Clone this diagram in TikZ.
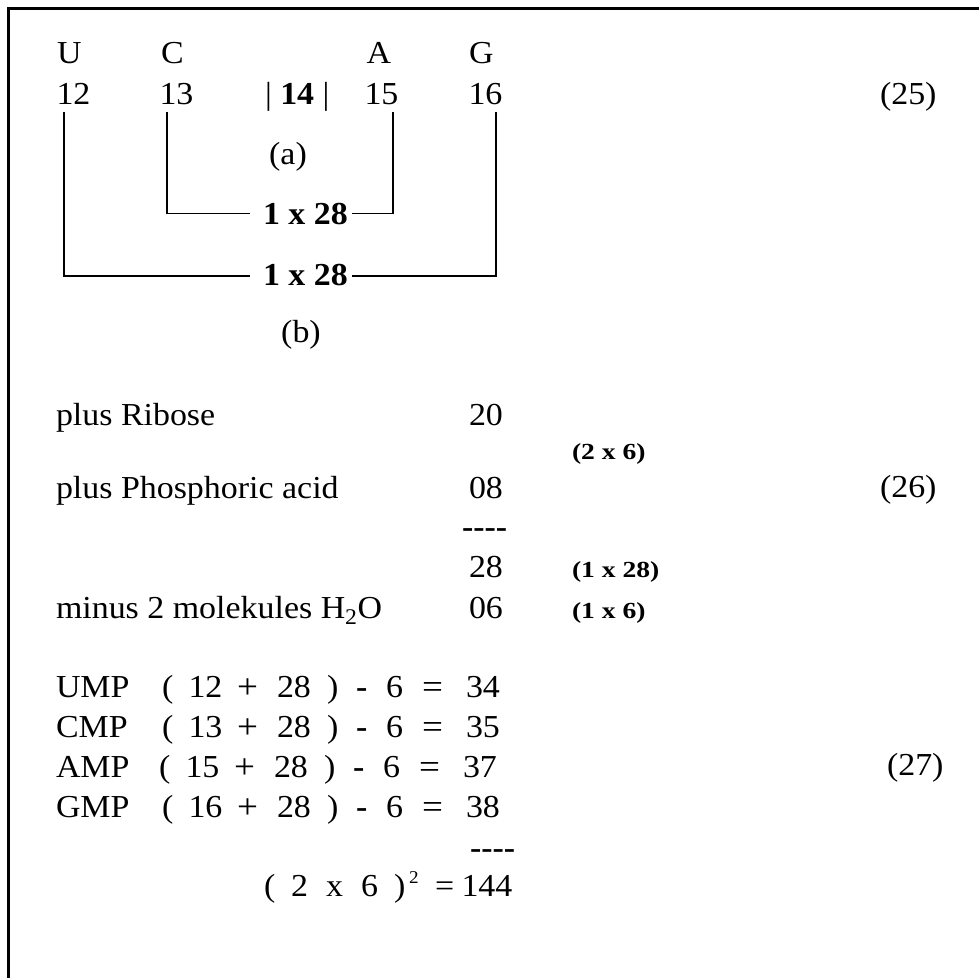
\documentclass[tikz,border=0pt]{standalone}
\usepackage{fontspec}
\setmainfont{Liberation Serif}[FakeStretch=1.06]
\newfontfamily\smbold{Liberation Serif}[FakeStretch=1.2]
\newcommand\hdashes{\textbf{-\kern0pt-\kern0pt-\kern0pt-}}
\tikzset{
  txt/.style={anchor=base west, inner sep=0pt, outer sep=0pt, font=\fontsize{32}{38}\selectfont},
  txtb/.style={txt, font=\fontsize{32}{38}\selectfont\bfseries},
  txtc/.style={txt, anchor=base},
  smb/.style={txt, font=\fontsize{23}{27}\smbold\bfseries},
  bigs/.style={txt, font=\fontsize{35}{41}\selectfont},
  sups/.style={txt, font=\fontsize{18}{21}\selectfont},
  conn/.style={line width=1.4pt},
  frame/.style={line width=3pt}
}
\newcommand\eqrow[6]{%
  \node[txt]  (#6n) at (56,#1) {#3};
  \node[txt]  (#6o) at ({162+(#2)},#1) {(};
  \node[txt]  (#6a) at ({188.5+(#2)},#1) {#4};
  \node[bigs] (#6p) at ({237+(#2)},{#1+1.5}) {+};
  \node[txt]  (#6b) at ({277+(#2)},#1) {28};
  \node[txt]  (#6c) at ({327+(#2)},#1) {)};
  \node[txtb] (#6m) at ({356+(#2)},#1) {-};
  \node[txt]  (#6s) at ({386+(#2)},#1) {6};
  \node[bigs] (#6e) at ({422+(#2)},{#1+1.5}) {=};
  \node[txt]  (#6r) at ({466+(#2)},#1) {#5};
}
\begin{document}
\begin{tikzpicture}[x=1pt,y=-1pt]
\useasboundingbox (0,0) rectangle (979,978);
\draw[frame] (8.5,978) -- (8.5,8.5) -- (979,8.5);

% (25)
\node[txt] (U) at (57,63) {U};
\node[txt] (C) at (161,63) {C};
\node[txt] (A) at (366.5,63) {A};
\node[txt] (G) at (469,63) {G};
\node[txt] (n12) at (56.5,104) {12};
\node[txt] (n13) at (159.5,104) {13};
\node[txt] (n14) at (265,104) {| \textbf{14} |};
\node[txt] (n15) at (364.5,104) {15};
\node[txt] (n16) at (468.5,104) {16};
\node[txt] (e25) at (880,104) {(25)};
\node[txtc] (la1) at (288,164) {(a)};
\node[txtb] (la) at (263,224) {1 x 28};
\node[txtb] (lb) at (263,285) {1 x 28};
\node[txtc] (lb1) at (301,342) {(b)};

\draw[conn] ([xshift=7.5pt,yshift=-8pt]n13.south west) |- ([xshift=-13pt]la.west);
\draw[conn] ([xshift=4pt]la.east) -| ([xshift=-5.5pt,yshift=-8pt]n15.south east);
\draw[conn] ([xshift=7.5pt,yshift=-8pt]n12.south west) |- ([xshift=-13pt,yshift=-1.5pt]lb.west);
\draw[conn] ([xshift=4pt,yshift=-1.5pt]lb.east) -| ([xshift=-6.5pt,yshift=-8pt]n16.south east);

% (26)
\node[txt] (rib) at (56,425) {plus Ribose};
\node[txt] (v20) at (469,425) {20};
\node[smb] (f26) at (572,459) {(2 x 6)};
\node[txt] (pho) at (56,498) {plus Phosphoric acid};
\node[txt] (v08) at (469,498) {08};
\node[txt] (e26) at (880,497) {(26)};
\node[txt] (d1) at (462,537) {\hdashes};
\node[txt] (v28) at (469,577) {28};
\node[smb] (f128) at (572,577) {(1 x 28)};
\node[txt] (h2o) at (56,618) {minus 2 molekules H\textsubscript{2}O};
\node[txt] (v06) at (469,618) {06};
\node[smb] (f16) at (572,618) {(1 x 6)};

% (27)
\eqrow{697}{0}{UMP}{12}{34}{ump}
\eqrow{737}{0}{CMP}{13}{35}{cmp}
\eqrow{777}{-3}{AMP}{15}{37}{amp}
\eqrow{817}{0}{GMP}{16}{38}{gmp}
\node[txt] (e27) at (887,775) {(27)};
\node[txt] (d2) at (470,858) {\hdashes};
\node[txt] (q1) at (264,896) {(};
\node[txt] (q2) at (291,896) {2};
\node[txt] (q3) at (326,896) {x};
\node[txt] (q4) at (361,896) {6};
\node[txt] (q5) at (394,896) {)};
\node[sups] (q6) at (409,883) {2};
\node[txt] (q7) at (435,896) {=};
\node[txt] (q8) at (461.5,896) {144};
\end{tikzpicture}
\end{document}
